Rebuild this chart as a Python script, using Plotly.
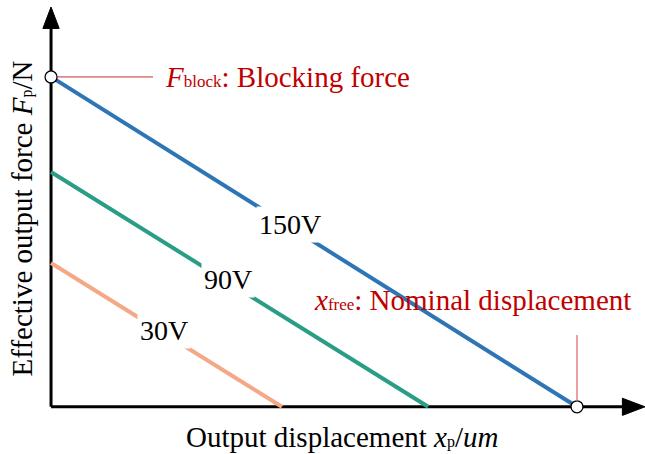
import plotly.graph_objects as go

# ---- data (arbitrary units) ----
voltages = ["150V", "90V", "30V"]
blocking_force = [100.0, 71.2, 43.6]     # force at zero displacement
free_displacement = [100.0, 71.7, 43.9]  # displacement at zero force
line_colors = ["#2E75B6", "#2A9D86", "#F4A886"]
label_pos = [0.455, 0.47, 0.49]          # fraction along each line for the label

X_MIN, X_MAX = -4.0, 112.93
Y_MIN, Y_MAX = -4.0, 121.2
FONT = "Liberation Serif"
RED = "#C00000"

fig = go.Figure()

for v, f, d, c in zip(voltages, blocking_force, free_displacement, line_colors):
    fig.add_trace(go.Scatter(x=[0, d], y=[f, 0], mode="lines",
                             line=dict(color=c, width=4), showlegend=False,
                             hoverinfo="skip"))

# open markers at F_block and x_free
fig.add_trace(go.Scatter(x=[0, free_displacement[0]], y=[blocking_force[0], 0],
                         mode="markers",
                         marker=dict(size=12, color="white",
                                     line=dict(color="black", width=1.3)),
                         showlegend=False, hoverinfo="skip", cliponaxis=False))

shapes = []
# axes lines
shapes.append(dict(type="line", xref="x", yref="y", x0=0, y0=0, x1=X_MAX - 4, y1=0,
                   line=dict(color="black", width=3), layer="below"))
shapes.append(dict(type="line", xref="x", yref="y", x0=0, y0=0, x1=0, y1=Y_MAX - 6,
                   line=dict(color="black", width=3), layer="below"))
# arrowheads
shapes.append(dict(type="path", xref="x", yref="y",
                   path=f"M {X_MAX} 0 L {X_MAX-4.3} 2.6 L {X_MAX-4.3} -2.6 Z",
                   fillcolor="black", line=dict(color="black", width=1)))
shapes.append(dict(type="path", xref="x", yref="y",
                   path=f"M 0 {Y_MAX} L 1.55 {Y_MAX-6.5} L -1.55 {Y_MAX-6.5} Z",
                   fillcolor="black", line=dict(color="black", width=1)))
# red leader lines
shapes.append(dict(type="line", xref="x", yref="y", x0=1, y0=blocking_force[0],
                   x1=19.4, y1=blocking_force[0], line=dict(color="#C83030", width=1)))
shapes.append(dict(type="line", xref="x", yref="y", x0=free_displacement[0], y0=1.8,
                   x1=free_displacement[0], y1=21.8, line=dict(color="#E07070", width=1.3)))

annotations = []
for v, f, d, t in zip(voltages, blocking_force, free_displacement, label_pos):
    annotations.append(dict(x=d * t, y=f * (1 - t) + 0.8, text=v, showarrow=False,
                            font=dict(family=FONT, size=28, color="black"),
                            bgcolor="white", borderpad=2))

annotations.append(dict(x=21.3, y=blocking_force[0], xanchor="left", yanchor="middle",
                        text="<i>F</i><span style='font-size:17px'>block</span>: Blocking force",
                        showarrow=False, font=dict(family=FONT, size=29, color=RED)))
annotations.append(dict(x=49.6, y=32.4, xanchor="left", yanchor="middle",
                        text="<i>x</i><span style='font-size:17px'>free</span>: Nominal displacement",
                        showarrow=False, font=dict(family=FONT, size=29, color=RED)))

# axis titles
annotations.append(dict(xref="paper", yref="paper", x=-0.013, y=0.488,
                        xanchor="center", yanchor="middle", textangle=-90,
                        text="Effective output force <i>F</i><span style='font-size:16px'>p</span>/N",
                        showarrow=False, font=dict(family=FONT, size=29, color="black")))
annotations.append(dict(xref="paper", yref="paper", x=0.508, y=-0.041,
                        xanchor="center", yanchor="middle",
                        text="Output displacement <i>x</i><span style='font-size:16px'>p</span>/<i>um</i>",
                        showarrow=False, font=dict(family=FONT, size=29, color="black")))

fig.update_layout(
    width=645, height=454,
    margin=dict(l=30, r=0, t=7, b=34),
    paper_bgcolor="white", plot_bgcolor="white",
    xaxis=dict(range=[X_MIN, X_MAX], visible=False, fixedrange=True),
    yaxis=dict(range=[Y_MIN, Y_MAX], visible=False, fixedrange=True),
    shapes=shapes, annotations=annotations,
)

fig.write_html("out.html")
